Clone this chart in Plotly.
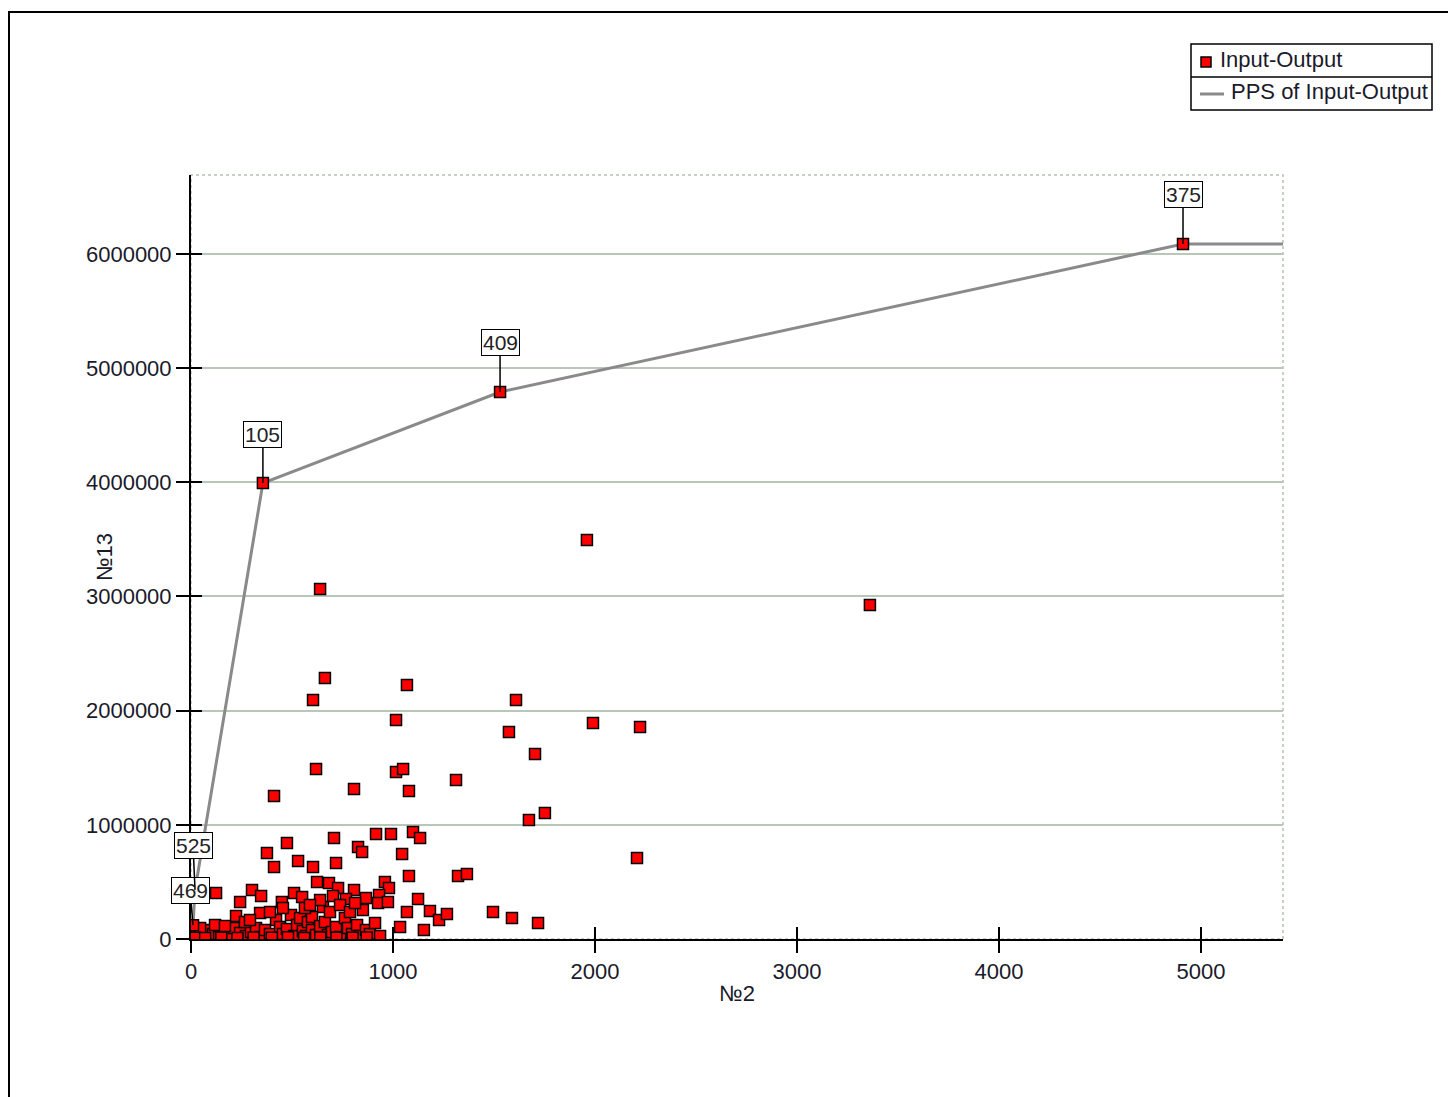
import plotly.graph_objects as go

# ---------------- data ----------------
# DMU scatter (Input №2, Output №13)
x_in = [1960, 3361, 639, 663, 604, 1069, 1609, 1015, 1990, 2223, 1574, 1703, 619, 1015, 1050,
        1312, 411, 807, 1079, 1752, 1673, 2208,
        376, 475, 708, 916, 990, 1099, 1134, 827, 847, 1045, 411, 530, 604, 718,
        124, 302, 347, 243, 510, 1079, 1322, 1366, 960, 980, 1124, 1069, 1183, 1228, 1267,
        1035, 1153, 1495, 1589, 1718, 624, 683, 728, 807, 703, 767, 866, 931, 926, 975,
        653, 851, 223,
        5, 30, 59, 84, 109, 139, 163, 188, 213, 243, 272, 297, 322, 342, 366, 391, 421, 441,
        455, 475, 495, 510, 525, 540, 554, 569, 579, 599, 599, 619, 639, 663, 678, 698, 718,
        738, 762, 777, 797, 822, 837, 866, 886, 911, 936, 45, 119, 168, 267, 342, 450, 455,
        550, 564, 391, 292, 688, 738, 787, 812, 639, 589,
        20, 70, 150, 230, 310, 400, 480, 560, 640, 720, 800, 870]
y_out = [3494000, 2925000, 3065000, 2285000, 2093000, 2224000, 2093000, 1918000, 1891000, 1856000,
         1813000, 1620000, 1489000, 1462000, 1489000, 1392000, 1252000, 1313000, 1296000, 1103000,
         1042000, 709000,
         753000, 841000, 884000, 919000, 919000, 937000, 884000, 806000, 762000, 744000, 631000,
         683000, 631000, 666000,
         403000, 429000, 377000, 324000, 403000, 552000, 552000, 569000, 499000, 447000, 350000,
         236000, 245000, 166000, 219000, 105000, 79000, 236000, 184000, 140000, 499000, 490000,
         447000, 429000, 377000, 350000, 359000, 385000, 315000, 324000, 280000, 254000, 201000,
         35000, 61000, 26000, 79000, 44000, 18000, 70000, 35000, 96000, 53000, 26000, 61000,
         96000, 18000, 79000, 44000, 166000, 105000, 44000, 88000, 210000, 26000, 123000, 184000,
         70000, 26000, 149000, 193000, 79000, 35000, 114000, 149000, 35000, 61000, 105000, 18000,
         184000, 96000, 44000, 123000, 26000, 79000, 44000, 140000, 26000, 96000, 123000, 114000,
         149000, 228000, 324000, 271000, 368000, 271000, 236000, 166000, 236000, 298000, 236000,
         315000, 342000, 298000,
         10000, 8000, 12000, 9000, 14000, 11000, 15000, 9000, 13000, 10000, 12000, 14000]

# efficient DMUs on the PPS frontier
eff_names = ["469", "525", "105", "409", "375"]
eff_x = [10, 20, 356, 1530, 4911]
eff_y = [120000, 430000, 3993000, 4790000, 6086000]

# frontier line (PPS of Input-Output): vertical start, efficient DMUs, horizontal end
pps_x = [10] + eff_x + [5406]
pps_y = [0] + eff_y + [6086000]

x_range = [0, 5406]
y_range = [0, 6690000]
x_ticks = [0, 1000, 2000, 3000, 4000, 5000]
y_ticks = [0, 1000000, 2000000, 3000000, 4000000, 5000000, 6000000]

legend_labels = ["Input-Output", "PPS of Input-Output"]
x_title = "№2"
y_title = "№13"

# ---------------- layout helpers (pixel -> paper) ----------------
W, H = 1448, 1097
L, R, T, B = 191, 1283, 175, 939
def px(xp):
    return (xp - L) / (R - L)
def py(yp):
    return (B - yp) / (B - T)

FONT = "Liberation Sans, Arial, sans-serif"
TXT = "#1a1a2a"
FS = 22

fig = go.Figure()

fig.add_trace(go.Scatter(x=pps_x, y=pps_y, mode="lines",
                         line=dict(color="#8a8a8a", width=3),
                         name=legend_labels[1], showlegend=False, hoverinfo="skip"))
fig.add_trace(go.Scatter(x=x_in + eff_x, y=y_out + eff_y, mode="markers",
                         marker=dict(symbol="square", size=11, color="#ff0000",
                                     line=dict(color="#000000", width=1.5)),
                         name=legend_labels[0], showlegend=False))
# overlay axis trace (invisible) to draw inside ticks
fig.add_trace(go.Scatter(x=[x_range[0]], y=[y_range[0]], xaxis="x2", yaxis="y2",
                         mode="markers", marker=dict(opacity=0), showlegend=False,
                         hoverinfo="skip"))

# labels of efficient DMUs
offsets = {"469": (-3, -35), "525": (-2, -44), "105": (0, -49), "409": (0, -49), "375": (0, -49)}
for n, xv, yv in zip(eff_names, eff_x, eff_y):
    ax, ay = offsets[n]
    fig.add_annotation(x=xv, y=yv, text=n, showarrow=True, arrowhead=0, arrowwidth=1.5,
                       arrowcolor="#000000", ax=ax, ay=ay, bgcolor="#ffffff",
                       bordercolor="#000000", borderwidth=1, borderpad=1,
                       font=dict(family=FONT, size=21, color="#222222"))

shapes = []
# dotted plot frame
shapes.append(dict(type="rect", xref="paper", yref="paper", x0=0, y0=0, x1=1, y1=1,
                   line=dict(color="#b4c2b4", width=1.5, dash="dot"), layer="below"))
# outer frame of the picture
shapes.append(dict(type="rect", xref="paper", yref="paper", x0=px(9), y0=py(12),
                   x1=px(1470), y1=py(1120), line=dict(color="#000000", width=2)))
# legend box
shapes.append(dict(type="rect", xref="paper", yref="paper", x0=px(1191), y0=py(44),
                   x1=px(1432), y1=py(110), line=dict(color="#000000", width=1.5),
                   fillcolor="#ffffff"))
shapes.append(dict(type="line", xref="paper", yref="paper", x0=px(1191), y0=py(77),
                   x1=px(1432), y1=py(77), line=dict(color="#000000", width=1.5)))
shapes.append(dict(type="rect", xref="paper", yref="paper", x0=px(1201), y0=py(57),
                   x1=px(1211), y1=py(67), line=dict(color="#000000", width=1.5),
                   fillcolor="#ff0000"))
shapes.append(dict(type="line", xref="paper", yref="paper", x0=px(1200), y0=py(94),
                   x1=px(1224), y1=py(94), line=dict(color="#8a8a8a", width=3)))

fig.add_annotation(xref="paper", yref="paper", x=px(1218), y=py(60), xanchor="left",
                   yanchor="middle", showarrow=False, text=legend_labels[0],
                   font=dict(family=FONT, size=FS, color=TXT))
fig.add_annotation(xref="paper", yref="paper", x=px(1229), y=py(92), xanchor="left",
                   yanchor="middle", showarrow=False, text=legend_labels[1],
                   font=dict(family=FONT, size=FS, color=TXT))
# y axis title (sits close to the tick labels, as in the original)
fig.add_annotation(xref="paper", yref="paper", x=px(104), y=py(557), xanchor="center",
                   yanchor="middle", showarrow=False, text=y_title, textangle=-90,
                   font=dict(family=FONT, size=FS, color=TXT))

fig.update_layout(
    width=W, height=H,
    margin=dict(l=L, r=W - R, t=T, b=H - B),
    paper_bgcolor="#ffffff", plot_bgcolor="#ffffff",
    showlegend=False,
    shapes=shapes,
    xaxis=dict(range=x_range, tickvals=x_ticks, tickformat="d", showgrid=False,
               zeroline=False, showline=True, linecolor="#000000", linewidth=2,
               ticks="outside", ticklen=12, tickwidth=1.5, tickcolor="#000000",
               tickfont=dict(family=FONT, size=FS, color=TXT),
               title=dict(text=x_title, font=dict(family=FONT, size=FS, color=TXT), standoff=2)),
    yaxis=dict(range=y_range, tickvals=y_ticks, tickformat="d", showgrid=True,
               gridcolor="#b9c7b9", gridwidth=1.5,
               zeroline=False, showline=True, linecolor="#000000", linewidth=2,
               ticks="outside", ticklen=13, tickwidth=1.5, tickcolor="#000000",
               tickfont=dict(family=FONT, size=FS, color=TXT)),
    xaxis2=dict(range=x_range, tickvals=x_ticks, overlaying="x", anchor="y2", side="bottom",
                showgrid=False, zeroline=False, showline=False, ticks="inside", ticklen=12,
                tickwidth=1.5, tickcolor="#000000", showticklabels=False),
    yaxis2=dict(range=y_range, tickvals=y_ticks, overlaying="y", anchor="x2", side="left",
                showgrid=False, zeroline=False, showline=False, ticks="inside", ticklen=11,
                tickwidth=1.5, tickcolor="#000000", showticklabels=False),
)

fig.write_html("out.html", config={"displayModeBar": False},
               post_script="document.body.style.margin='0';")
